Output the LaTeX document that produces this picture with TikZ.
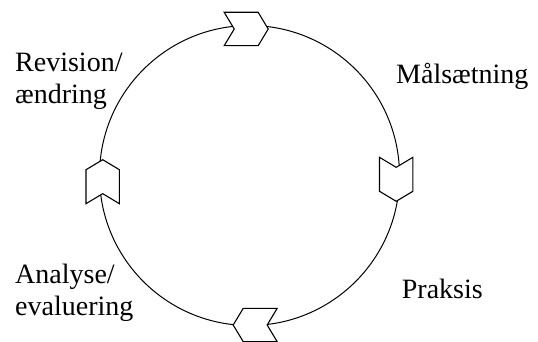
\documentclass[tikz,border=0pt]{standalone}
\usepackage{fontspec}
\setmainfont{Liberation Serif}
\usetikzlibrary{shapes.symbols}
\begin{document}
\begin{tikzpicture}[x=1pt,y=-1pt,
  chev/.style={shape=signal, draw=black, fill=white, line width=1.1pt, inner sep=0pt, signal pointer angle=118,
    signal from=west, signal to=east, minimum width=44pt, minimum height=33.4pt},
  lbl/.style={font=\fontsize{28}{32}\selectfont, inner sep=0pt, align=left, anchor=base west}]
\useasboundingbox (0,0) rectangle (538,342);
\coordinate (c) at (249.5,175.5);
\draw[line width=1pt] (c) circle[radius=150];
\node[chev] (top) at (246.2,29) {};
\node[chev, rotate=-90] (right) at (396.2,179.3) {};
\node[chev, rotate=180] (bottom) at (255.2,325) {};
\node[chev, rotate=90] (left) at (102.7,181.7) {};
\node[lbl] (rev) at (15,103.3) {Revision/\\ændring};
\node[lbl] (mal) at (396,83.3) {Målsætning};
\node[lbl] (ana) at (15,315) {Analyse/\\evaluering};
\node[lbl] (pra) at (401.7,298.3) {Praksis};
\end{tikzpicture}
\end{document}
